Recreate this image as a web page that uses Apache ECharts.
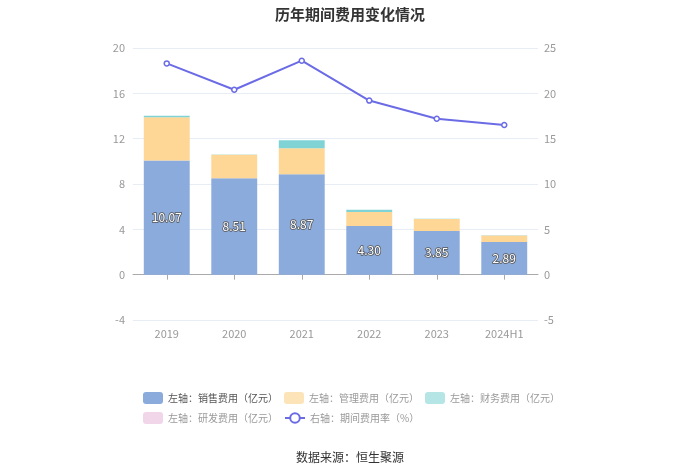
<!DOCTYPE html>
<html><head><meta charset="utf-8">
<script src="https://cdn.jsdelivr.net/npm/echarts@6/dist/echarts.min.js"></script>
<style>html,body{margin:0;padding:0;background:#fff}#c{width:700px;height:474px}</style>
</head><body><div id="c"></div>
<script>
var categories = ['2019','2020','2021','2022','2023','2024H1'];
var salesExp = [10.07, 8.51, 8.87, 4.30, 3.85, 2.89];
var mgmtExp = [3.83, 2.06, 2.29, 1.22, 1.06, 0.57];
var finExp = [0.12, 0.03, 0.71, 0.20, 0.02, 0.02];
var rdExp = [0, 0, 0, 0, 0, 0];
var expRate = [23.3, 20.4, 23.6, 19.2, 17.2, 16.5];
var leftTicks = {min: -4, max: 20, interval: 4};
var rightTicks = {min: -5, max: 25, interval: 5};
var names = ['左轴：销售费用（亿元）','左轴：管理费用（亿元）','左轴：财务费用（亿元）','左轴：研发费用（亿元）','右轴：期间费用率（%）'];

var font = '"Noto Sans CJK SC", "Noto Sans", sans-serif';
var legendBase = {
  left: 138, itemWidth: 20, itemHeight: 12, itemGap: 6,
  textStyle: {fontSize: 10, color: '#999', fontFamily: font}
};
var chart = echarts.init(document.getElementById('c'));
chart.setOption({
  animation: false,
  textStyle: {fontFamily: font},
  title: {text: '历年期间费用变化情况', left: 'center', top: 2,
    textStyle: {fontSize: 15, fontWeight: 'bold', color: '#333', fontFamily: font}},
  graphic: [{type: 'text', left: 'center', top: 451,
    style: {text: '数据来源：恒生聚源', fontSize: 12, fill: '#333', fontFamily: font}}],
  legend: [
    Object.assign({}, legendBase, {top: 387, data: [
      {name: names[0], textStyle: {color: '#555'}},
      {name: names[1], itemStyle: {color: '#fde3b8'}},
      {name: names[2], itemStyle: {color: '#b6e5e6'}}
    ]}),
    Object.assign({}, legendBase, {top: 407, data: [
      {name: names[3], itemStyle: {color: '#f1d6ea'}},
      {name: names[4]}
    ]})
  ],
  grid: {left: 133, right: 162, top: 48, bottom: 154},
  xAxis: [
    {type: 'category', data: categories, position: 'bottom',
     axisLine: {show: false, onZero: false}, axisTick: {show: false},
     axisLabel: {color: '#999', fontSize: 11, margin: 8}},
    {type: 'category', data: categories, position: 'bottom',
     axisLine: {show: true, onZero: true, lineStyle: {color: '#aaa'}},
     axisTick: {show: true, alignWithLabel: true, length: 5, lineStyle: {color: '#aaa'}},
     axisLabel: {show: false}}
  ],
  yAxis: [
    {type: 'value', min: leftTicks.min, max: leftTicks.max, interval: leftTicks.interval,
     axisLine: {show: false}, axisTick: {show: false},
     axisLabel: {color: '#999', fontSize: 11, margin: 8},
     splitLine: {lineStyle: {color: '#e8ecf4'}}},
    {type: 'value', min: rightTicks.min, max: rightTicks.max, interval: rightTicks.interval,
     axisLine: {show: false}, axisTick: {show: false},
     axisLabel: {color: '#999', fontSize: 11, margin: 6},
     splitLine: {show: false}}
  ],
  series: [
    {name: names[0], type: 'bar', stack: 'a', data: salesExp, barWidth: '68%',
     itemStyle: {color: '#8aabdc'},
     label: {show: true, position: 'inside', color: '#fff', fontSize: 12,
       textBorderColor: '#555', textBorderWidth: 1.5,
       formatter: function(p){return p.value.toFixed(2);}}},
    {name: names[1], type: 'bar', stack: 'a', data: mgmtExp, itemStyle: {color: '#fed695'}},
    {name: names[2], type: 'bar', stack: 'a', data: finExp, itemStyle: {color: '#80d3d5'}},
    {name: names[3], type: 'bar', stack: 'a', data: rdExp, itemStyle: {color: '#eccbe3'}},
    {name: names[4], type: 'line', yAxisIndex: 1, data: expRate,
     symbol: 'circle', symbolSize: 5, showSymbol: true,
     lineStyle: {color: '#6b6be6', width: 2},
     itemStyle: {color: '#fff', borderColor: '#6b6be6', borderWidth: 1.5}}
  ]
});
</script></body></html>
